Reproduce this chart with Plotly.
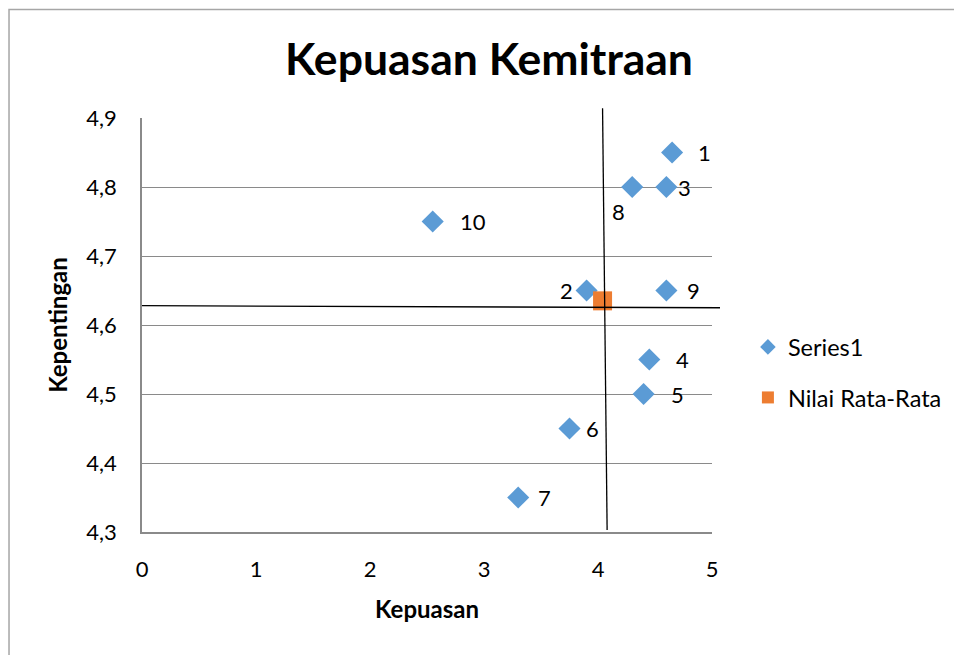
import plotly.graph_objects as go

# ---- data ----
labels = ["1", "2", "3", "4", "5", "6", "7", "8", "9", "10"]
kepuasan = [4.65, 3.9, 4.6, 4.45, 4.4, 3.75, 3.3, 4.3, 4.6, 2.55]
kepentingan = [4.85, 4.65, 4.8, 4.55, 4.5, 4.45, 4.35, 4.8, 4.65, 4.75]

avg_x = [4.04]
avg_y = [4.635]

# quadrant divider lines (data values)
vline_x = [4.04, 4.08]
vline_y = [4.914, 4.303]
hline_x = [0.0, 5.07]
hline_y = [4.628, 4.625]

x_ticks = [0, 1, 2, 3, 4, 5]
y_ticks = [4.3, 4.4, 4.5, 4.6, 4.7, 4.8, 4.9]
XR = [0, 5]
YR = [4.3, 4.9]

# label placement (style)
lab_anchor = ["left", "right", "left", "left", "left", "left", "left", "center", "left", "left"]
lab_xshift = [24, -12, 10, 25, 25, 14, 18, -14, 19, 25]
lab_yshift = [0, 0, 0, 0, 0, 0, 0, -24, 0, 0]

FONT = "Lato"
BLUE = "#5B9BD5"
ORANGE = "#ED7D31"
GRID = "#8a8a8a"

fig = go.Figure()
fig.add_trace(go.Scatter(
    x=kepuasan, y=kepentingan, mode="markers", name="Series1",
    marker=dict(symbol="diamond", size=17, color=BLUE, line=dict(width=0)),
    legendgroup="a", cliponaxis=False,
))
fig.add_trace(go.Scatter(
    x=avg_x, y=avg_y, mode="markers", name="Nilai Rata-Rata",
    marker=dict(symbol="square", size=19, color=ORANGE, line=dict(width=0)),
    legendgroup="b", cliponaxis=False,
))

def fx(v):
    return (v - XR[0]) / (XR[1] - XR[0])

def fy(v):
    return (v - YR[0]) / (YR[1] - YR[0])

shapes = [
    dict(type="line", xref="x domain", yref="y domain",
         x0=fx(vline_x[0]), y0=fy(vline_y[0]), x1=fx(vline_x[1]), y1=fy(vline_y[1]),
         line=dict(color="black", width=1.3), layer="above"),
    dict(type="line", xref="x domain", yref="y domain",
         x0=fx(hline_x[0]), y0=fy(hline_y[0]), x1=fx(hline_x[1]), y1=fy(hline_y[1]),
         line=dict(color="black", width=1.3), layer="above"),
    # outer chart border
    dict(type="rect", xref="paper", yref="paper",
         x0=-0.2333, y0=-1.0, x1=2.0, y1=1.262,
         line=dict(color="#a6a6a6", width=1.5), layer="below"),
]

annotations = []
for i, t in enumerate(labels):
    annotations.append(dict(
        x=kepuasan[i], y=kepentingan[i], text=t, showarrow=False,
        xanchor=lab_anchor[i], yanchor="middle",
        xshift=lab_xshift[i], yshift=lab_yshift[i],
        font=dict(family=FONT, size=22, color="black"),
    ))

fig.update_layout(
    width=962, height=655,
    margin=dict(l=134, r=258, t=110, b=131),
    paper_bgcolor="white", plot_bgcolor="white",
    separators=",.",
    title=dict(text="<b>Kepuasan Kemitraan</b>", x=0.5, xref="container", xanchor="center",
               y=0.922, yref="container", yanchor="middle",
               font=dict(family=FONT, size=44.5, color="black")),
    font=dict(family=FONT, color="black"),
    showlegend=True,
    legend=dict(x=1.063, y=0.385, xanchor="left", yanchor="middle",
                font=dict(family=FONT, size=23.5, color="black"),
                tracegroupgap=17, traceorder="grouped",
                itemsizing="constant", itemwidth=30),
    shapes=shapes,
    annotations=annotations,
)
fig.update_xaxes(
    range=XR, tickvals=x_ticks, showgrid=False, zeroline=False,
    showline=True, linecolor=GRID, linewidth=1.5,
    ticks="", tickfont=dict(family=FONT, size=22, color="black"),
    ticklabelstandoff=17,
    title=dict(text="<b>Kepuasan</b>", font=dict(family=FONT, size=24, color="black"), standoff=20),
)
fig.update_yaxes(
    range=YR, tickvals=y_ticks, tickformat=".1f", showgrid=True, gridcolor=GRID, gridwidth=1,
    zeroline=False, showline=True, linecolor=GRID, linewidth=1.5,
    ticks="", tickfont=dict(family=FONT, size=22, color="black"),
    ticklabelstandoff=19,
    title=dict(text="<b>Kepentingan</b>", font=dict(family=FONT, size=24, color="black"), standoff=12),
)

fig.write_html("out.html")
